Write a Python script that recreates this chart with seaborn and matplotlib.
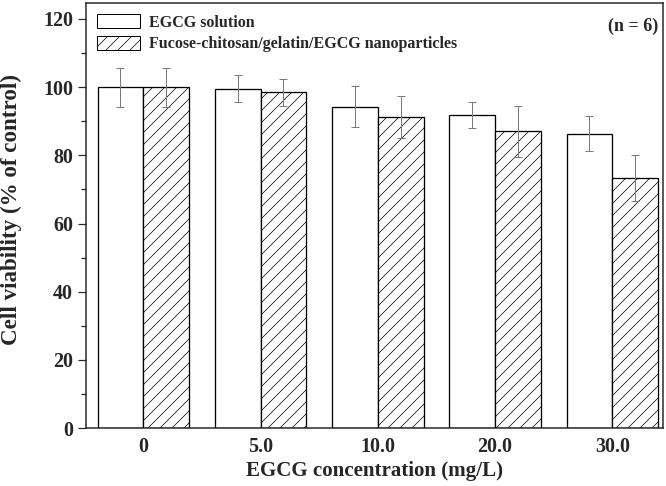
import numpy as np
import pandas as pd
import matplotlib
matplotlib.use("Agg")
import matplotlib.pyplot as plt
import seaborn as sns
from matplotlib.ticker import MultipleLocator

# data
concentrations = ["0", "5.0", "10.0", "20.0", "30.0"]
groups = ["EGCG solution", "Fucose-chitosan/gelatin/EGCG nanoparticles"]
egcg_mean = [100.0, 99.5, 94.3, 91.8, 86.3]
egcg_sd = [5.7, 4.0, 6.0, 3.7, 5.1]
nano_mean = [100.0, 98.5, 91.2, 87.0, 73.3]
nano_sd = [5.7, 4.0, 6.1, 7.6, 6.7]

df = pd.DataFrame({
    "conc": concentrations * 2,
    "group": [groups[0]] * 5 + [groups[1]] * 5,
    "viability": egcg_mean + nano_mean,
})

sns.set_style("ticks")
plt.rcParams["font.family"] = ["Liberation Serif", "DejaVu Serif"]
plt.rcParams["font.weight"] = "bold"
plt.rcParams["hatch.linewidth"] = 0.7
plt.rcParams["hatch.color"] = "#444444"

fig = plt.figure(figsize=(666 / 72, 486 / 72), dpi=72)
ax = fig.add_axes([0.129, 0.119, 0.866, 0.875])

sns.barplot(data=df, x="conc", y="viability", hue="group", order=concentrations,
            hue_order=groups, errorbar=None, width=0.78, gap=0,
            palette=["white", "white"], edgecolor="black", linewidth=1.3, ax=ax)

# hatch second group, add error bars at bar centres
bar_conts = list(ax.containers)
for i, cont in enumerate(bar_conts):
    sds = egcg_sd if i == 0 else nano_sd
    xs = [p.get_x() + p.get_width() / 2 for p in cont.patches]
    hs = [p.get_height() for p in cont.patches]
    if i == 1:
        for p in cont.patches:
            p.set_hatch("//")
    ax.errorbar(xs, hs, yerr=sds, fmt="none", ecolor="#7a7a7a", elinewidth=1.0,
                capsize=4, capthick=1.0, zorder=5)

leg = ax.legend(loc="upper left", frameon=False, fontsize=16, handlelength=2.7,
                handleheight=1.0, handletextpad=0.55, labelspacing=0.3,
                borderaxespad=0.3, bbox_to_anchor=(0.0, 1.0))
for h in leg.legend_handles:
    h.set_edgecolor("black")
    h.set_linewidth(1.0)
leg.legend_handles[1].set_hatch("//")
for t in leg.get_texts():
    t.set_fontweight("bold")

ax.text(0.992, 0.945, "(n = 6)", transform=ax.transAxes, ha="right", va="center",
        fontsize=18, fontweight="bold")

ax.set_ylim(0, 124.7)
ax.set_xlim(-0.49, 4.43)
ax.yaxis.set_major_locator(MultipleLocator(20))
ax.yaxis.set_minor_locator(MultipleLocator(10))
ax.tick_params(axis="y", which="major", direction="out", length=8, width=1.2,
               labelsize=20, pad=5)
ax.tick_params(axis="y", which="minor", direction="out", length=5, width=1.2)
ax.tick_params(axis="x", length=0, labelsize=20, pad=9)
for lab in ax.get_xticklabels() + ax.get_yticklabels():
    lab.set_fontweight("bold")
for s in ax.spines.values():
    s.set_visible(True)
    s.set_linewidth(1.5)

ax.set_xlabel("EGCG concentration (mg/L)", fontsize=21, fontweight="bold", labelpad=4)
ax.set_ylabel("Cell viability (% of control)", fontsize=23, fontweight="bold", labelpad=13)
ax.yaxis.set_label_coords(-0.11, 0.515)

fig.savefig("out.png", dpi=72)
